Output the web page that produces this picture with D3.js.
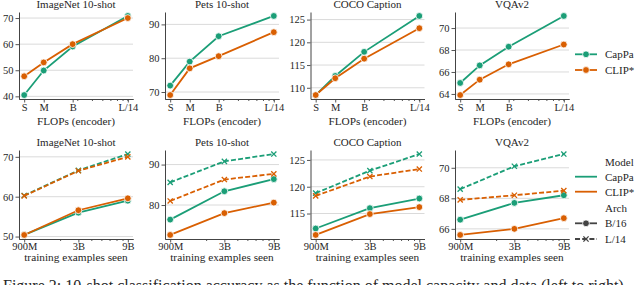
<!DOCTYPE html>
<html>
<head>
<meta charset="utf-8">
<script src="https://cdn.jsdelivr.net/npm/d3@7"></script>
<style>
    body { margin: 0; background: #fff; }
    svg text { fill: #262626; font-family: "Liberation Serif", "Times New Roman", serif; }
</style>
</head>
<body>
<div id="chart"></div>
<script>
// Panel titles (same for both rows)
const tasks = ["ImageNet 10-shot", "Pets 10-shot", "COCO Caption", "VQAv2"];

// Top row: encoder size (x is log FLOPs)
const encoderLabels = ["S", "M", "B", "L/14"];
const encoderGflops = [4.6, 7.9, 17.6, 81];
const encoderMinorTicks = [20, 30, 40, 50, 60, 70, 80];
const capPaBySize = [
    [40.5, 49.9, 59.1, 70.8],
    [71.9, 79.0, 86.5, 92.5],
    [108.4, 112.6, 117.9, 125.8],
    [65.0, 66.6, 68.3, 71.1]
];
const clipBySize = [
    [47.7, 53.0, 60.0, 70.0],
    [69.1, 77.0, 80.6, 87.7],
    [108.4, 112.1, 116.4, 123.1],
    [63.9, 65.3, 66.7, 68.5]
];
const sizeYTicks = [[40, 50, 60, 70], [70, 80, 90], [110, 115, 120, 125], [64, 66, 68, 70]];

// Bottom row: training examples seen (billions, log x)
const examplesLabels = ["900M", "3B", "9B"];
const examplesSeen = [0.9, 3, 9];
const examplesMinorTicks = [2, 4, 5, 6, 7, 8];
const capPaB16 = [
    [50.4, 56.0, 59.0],
    [76.4, 83.4, 86.4],
    [112.2, 116.0, 117.8],
    [66.6, 67.7, 68.2]
];
const clipB16 = [
    [50.4, 56.6, 59.6],
    [72.6, 78.0, 80.6],
    [111.0, 114.9, 116.2],
    [65.6, 66.0, 66.7]
];
const capPaL14 = [
    [60.3, 66.6, 70.7],
    [85.6, 90.8, 92.6],
    [118.8, 123.0, 126.1],
    [68.6, 70.1, 70.9]
];
const clipL14 = [
    [60.2, 66.5, 70.0],
    [81.0, 86.3, 87.7],
    [118.3, 121.9, 123.3],
    [67.9, 68.2, 68.5]
];
const examplesYTicks = [[50, 60, 70], [80, 90], [115, 120, 125], [66, 68, 70]];

const green = "#1b9e77";
const orange = "#d95f02";
const gray = "#444";

const panelLeft = [19, 165, 310.5, 455];
const panelWidth = 114;

const svg = d3.select("#chart")
    .append("svg")
    .attr("width", 640)
    .attr("height", 285);

// small x marker path centred on 0,0
function xMarker(s) {
    return `M${-s},${-s}L${s},${s}M${-s},${s}L${s},${-s}`;
}

function drawMarkers(g, pts, color, kind) {
    if (kind === "o") {
        g.selectAll(null)
            .data(pts)
            .enter()
            .append("circle")
            .attr("cx", d => d[0])
            .attr("cy", d => d[1])
            .attr("r", 3.4)
            .attr("fill", color)
            .attr("stroke", "#fff")
            .attr("stroke-width", 0.8);
    } else {
        g.selectAll(null)
            .data(pts)
            .enter()
            .append("path")
            .attr("transform", d => `translate(${d[0]},${d[1]})`)
            .attr("d", xMarker(2.6))
            .attr("fill", "none")
            .attr("stroke", color)
            .attr("stroke-width", 1.3);
    }
}

function drawPanel(opts) {
    const g = svg.append("g");
    const left = opts.left, right = opts.left + panelWidth;

    // y: data extent with 5% margin
    const allY = opts.series.flatMap(s => s.values);
    const [yMin, yMax] = d3.extent(allY);
    const yPad = (yMax - yMin) * 0.05;
    const y = d3.scaleLinear()
        .domain([yMin - yPad, yMax + yPad])
        .range([opts.bottom, opts.top]);

    // x: log scale with 5% margin in log space
    const [xMin, xMax] = d3.extent(opts.xValues);
    const f = Math.pow(xMax / xMin, 0.05);
    const x = d3.scaleLog()
        .domain([xMin / f, xMax * f])
        .range([left, right]);

    // gridlines
    g.selectAll(".grid")
        .data(opts.yTicks)
        .enter()
        .append("line")
        .attr("x1", left)
        .attr("x2", right)
        .attr("y1", d => y(d))
        .attr("y2", d => y(d))
        .attr("stroke", "#dadada")
        .attr("stroke-width", 1);

    // left axis
    g.append("g")
        .attr("transform", `translate(${left},0)`)
        .call(d3.axisLeft(y).tickValues(opts.yTicks).tickFormat(d3.format("d"))
            .tickSize(3.5).tickSizeOuter(0).tickPadding(2));

    // bottom axis, minor ticks first
    g.append("g")
        .attr("transform", `translate(0,${opts.bottom})`)
        .call(d3.axisBottom(x).tickValues(opts.minorTicks).tickFormat("").tickSize(2).tickSizeOuter(0));
    g.append("g")
        .attr("transform", `translate(0,${opts.bottom})`)
        .call(d3.axisBottom(x).tickValues(opts.xValues)
            .tickFormat((d, i) => opts.xLabels[i]).tickSize(3.5).tickSizeOuter(0).tickPadding(opts.xPad));

    g.selectAll(".domain").attr("stroke", gray).attr("stroke-width", 1);
    g.selectAll(".tick line").attr("stroke", gray).attr("stroke-width", 0.9);
    g.selectAll(".tick text").attr("font-size", 10.5);

    // series
    opts.series.forEach(s => {
        const pts = s.values.map((v, i) => [x(opts.xValues[i]), y(v)]);
        g.append("path")
            .datum(pts)
            .attr("fill", "none")
            .attr("stroke", s.color)
            .attr("stroke-width", 1.8)
            .attr("stroke-dasharray", s.dashed ? "5,2.2" : null)
            .attr("d", d3.line());
        drawMarkers(g, pts, s.color, s.marker);
    });

    // title
    g.append("text")
        .attr("x", (left + right) / 2)
        .attr("y", opts.titleY)
        .attr("text-anchor", "middle")
        .attr("font-size", 11)
        .text(opts.title);

    // x label
    g.append("text")
        .attr("x", (left + right) / 2)
        .attr("y", opts.xLabelY)
        .attr("text-anchor", "middle")
        .attr("font-size", 11.3)
        .text(opts.xLabel);
}

// Top row
tasks.forEach((task, i) => {
    drawPanel({
        left: panelLeft[i], top: 12, bottom: 99,
        title: task, titleY: 7.5,
        xLabel: "FLOPs (encoder)", xLabelY: 124.5, xPad: 1.5,
        xValues: encoderGflops, xLabels: encoderLabels, minorTicks: encoderMinorTicks,
        yTicks: sizeYTicks[i],
        series: [
            {values: capPaBySize[i], color: green, dashed: false, marker: "o"},
            {values: clipBySize[i], color: orange, dashed: false, marker: "o"}
        ]
    });
});

// Bottom row
tasks.forEach((task, i) => {
    drawPanel({
        left: panelLeft[i], top: 150, bottom: 239,
        title: task, titleY: 145.5,
        xLabel: "training examples seen", xLabelY: 261, xPad: 0,
        xValues: examplesSeen, xLabels: examplesLabels, minorTicks: examplesMinorTicks,
        yTicks: examplesYTicks[i],
        series: [
            {values: capPaB16[i], color: green, dashed: false, marker: "o"},
            {values: capPaL14[i], color: green, dashed: true, marker: "x"},
            {values: clipB16[i], color: orange, dashed: false, marker: "o"},
            {values: clipL14[i], color: orange, dashed: true, marker: "x"}
        ]
    });
});

// Legends
const legX1 = 575, legX2 = 597, legText = 605;

function legendLine(yPos, color, dashed, marker, label) {
    const g = svg.append("g");
    g.append("line")
        .attr("x1", legX1).attr("x2", legX2)
        .attr("y1", yPos).attr("y2", yPos)
        .attr("stroke", color)
        .attr("stroke-width", 1.8)
        .attr("stroke-dasharray", dashed ? "5,2.2" : null);
    if (marker) drawMarkers(g, [[(legX1 + legX2) / 2, yPos]], color, marker);
    g.append("text")
        .attr("x", legText)
        .attr("y", yPos)
        .attr("dy", "0.35em")
        .attr("font-size", 11)
        .text(label);
}

function legendHeader(yPos, label) {
    svg.append("text")
        .attr("x", legText)
        .attr("y", yPos)
        .attr("dy", "0.35em")
        .attr("font-size", 11)
        .text(label);
}

legendLine(54.3, green, false, "o", "CapPa");
legendLine(70, orange, false, "o", "CLIP*");

legendHeader(161.7, "Model");
legendLine(176.7, green, false, null, "CapPa");
legendLine(191.7, orange, false, null, "CLIP*");
legendHeader(208.3, "Arch");
legendLine(223.3, gray, false, "o", "B/16");
legendLine(239, gray, true, "x", "L/14");

// Caption (cut off at the bottom of the picture)
svg.append("text")
    .attr("x", 3)
    .attr("y", 291)
    .attr("font-size", 16)
    .attr("fill", "#111")
    .text("Figure 2: 10-shot classification accuracy as the function of model capacity and data (left to right)");
</script>
</body>
</html>
